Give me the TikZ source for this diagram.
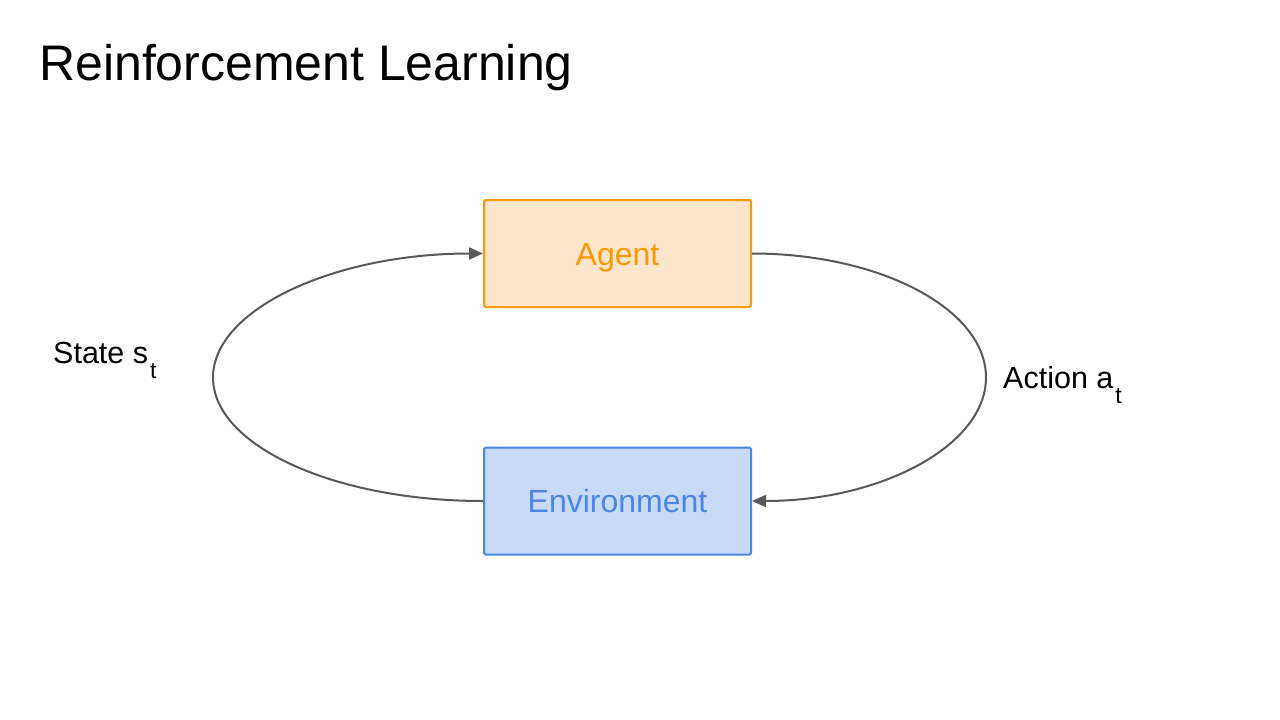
\documentclass[tikz,border=0pt]{standalone}
\usepackage{fontspec}
\setmainfont{Liberation Sans}
\usetikzlibrary{arrows.meta}
\definecolor{agentfill}{HTML}{FCE5CD}
\definecolor{agentline}{HTML}{FF9900}
\definecolor{envfill}{HTML}{C9DAF8}
\definecolor{envline}{HTML}{4A86E8}
\definecolor{linkgray}{HTML}{595959}
\tikzset{
  boxnode/.style={rectangle, rounded corners=1.5pt, line width=2pt, minimum width=267pt, minimum height=107pt, inner sep=0pt, text height=23pt, text depth=0pt, font=\fontsize{32}{38}\selectfont},
  agentbox/.style={boxnode, draw=agentline, fill=agentfill, text=agentline},
  envbox/.style={boxnode, draw=envline, fill=envfill, text=envline},
  link/.style={draw=linkgray, line width=2pt, -{Triangle[length=14pt,width=12pt]}},
  lbl/.style={anchor=base west, inner sep=0pt, font=\fontsize{30.5}{36}\selectfont},
}
\newcommand{\subt}{\kern2pt\raisebox{-15pt}{\fontsize{23}{26}\selectfont t}}
\begin{document}
\begin{tikzpicture}[x=1pt,y=-1pt]
\useasboundingbox[fill=white] (0,0) rectangle (1280,720);
\node[anchor=base west, inner sep=0pt, font=\fontsize{50}{60}\selectfont] (title) at (39,80) {Reinforcement Learning};
\node[agentbox] (agent) at (617.5,253.5) {Agent};
\node[envbox] (env) at (617.5,501) {Environment};
\coordinate (L) at (213,377.5);
\coordinate (R) at (986,377.5);
\draw[link] (env.west) .. controls (334,501) and (213,445.5) .. (L)
  .. controls (213,309.5) and (334,253.5) .. (agent.west);
\draw[link] (agent.east) .. controls (881,253.5) and (986,309.5) .. (R)
  .. controls (986,445.5) and (881,501) .. (env.east);
\node[lbl] (state) at (53,363) {State s\subt};
\node[lbl] (action) at (1003,388) {Action a\subt};
\end{tikzpicture}
\end{document}
